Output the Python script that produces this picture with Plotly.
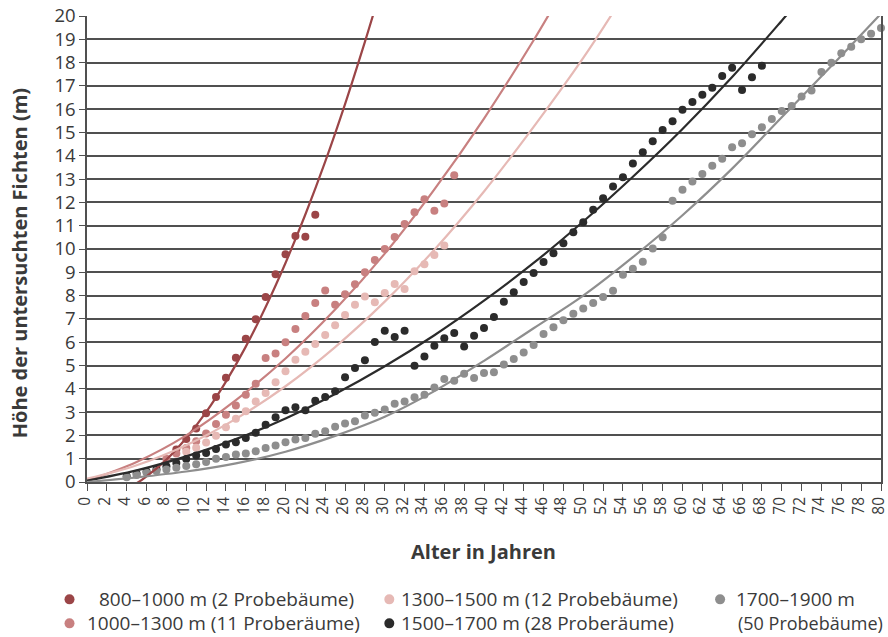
import plotly.graph_objects as go

# ---------------- data ----------------
names = ["800–1000 m (2 Probebäume)", "1000–1300 m (11 Proberäume)",
         "1300–1500 m (12 Probebäume)", "1500–1700 m (28 Proberäume)",
         "1700–1900 m (50 Probebäume)"]
colors = ["#9b4547", "#c88080", "#e6b9b5", "#2b2b2b", "#8e8e8e"]

# measured points (age in years, height in m)
age_800 = list(range(9, 24))
h_800 = [1.4, 1.85, 2.3, 2.95, 3.65, 4.47, 5.33, 6.15, 6.98, 7.94, 8.92, 9.78, 10.56, 10.53, 11.47]

age_1000 = list(range(8, 38))
h_1000 = [1.0, 1.22, 1.46, 1.75, 2.08, 2.49, 2.89, 3.28, 3.75, 4.22, 5.32, 5.52, 6.0, 6.57, 7.12,
          7.68, 8.22, 7.61, 8.06, 8.49, 9.0, 9.53, 10.0, 10.52, 11.07, 11.58, 12.14, 11.64, 11.95, 13.17]

age_1300 = list(range(10, 37))
h_1300 = [1.3, 1.47, 1.7, 1.99, 2.35, 2.71, 3.04, 3.46, 3.82, 4.28, 4.75, 5.25, 5.59, 5.92, 6.31,
          6.73, 7.17, 7.61, 7.96, 7.71, 8.11, 8.5, 8.28, 9.04, 9.35, 9.74, 10.15]

age_1500 = list(range(4, 69))
h_1500 = [0.25, 0.35, 0.45, 0.55, 0.68, 0.82, 0.99, 1.14, 1.25, 1.42, 1.61, 1.71, 1.89, 2.11, 2.46,
          2.78, 3.08, 3.21, 3.08, 3.49, 3.65, 3.9, 4.5, 4.89, 5.23, 6.01, 6.49, 6.22, 6.49, 4.99,
          5.39, 5.85, 6.17, 6.39, 5.82, 6.28, 6.61, 7.08, 7.74, 8.14, 8.58, 8.97, 9.44, 9.82, 10.25,
          10.72, 11.15, 11.68, 12.18, 12.68, 13.08, 13.67, 14.15, 14.62, 15.11, 15.48, 15.98, 16.31,
          16.62, 16.92, 17.42, 17.78, 16.82, 17.37, 17.87]

age_1700 = list(range(4, 81))
h_1700 = [0.2, 0.3, 0.4, 0.47, 0.54, 0.61, 0.69, 0.76, 0.86, 1.0, 1.07, 1.18, 1.22, 1.32, 1.46,
          1.57, 1.71, 1.82, 1.89, 2.07, 2.18, 2.37, 2.51, 2.61, 2.85, 2.97, 3.11, 3.36, 3.46, 3.64,
          3.75, 4.06, 4.42, 4.35, 4.65, 4.46, 4.68, 4.71, 5.04, 5.28, 5.56, 5.88, 6.35, 6.64, 6.94,
          7.22, 7.45, 7.68, 7.94, 8.21, 8.89, 9.15, 9.45, 10.02, 10.5, 12.07, 12.54, 12.9, 13.22,
          13.57, 13.87, 14.37, 14.54, 14.92, 15.22, 15.58, 15.92, 16.14, 16.54, 16.8, 17.6, 17.99,
          18.4, 18.68, 19.0, 19.24, 19.49]

# fitted curves
fit_age_800 = [0, 2, 4, 5, 6, 8, 10, 12, 14, 16, 18, 20, 22, 24, 26, 28, 29]
fit_h_800 = [-0.1, -0.25, -0.2, -0.05, 0.24, 0.96, 1.89, 3.0, 4.31, 5.81, 7.51, 9.4, 11.48, 13.75, 16.22, 18.89, 20.29]

fit_age_1000 = [0, 5, 10, 15, 20, 25, 30, 35, 40, 45, 47]
fit_h_1000 = [0.05, 0.86, 2.0, 3.51, 5.3, 7.4, 9.8, 12.56, 15.6, 18.96, 20.4]

fit_age_1300 = [0, 5, 10, 15, 20, 25, 30, 35, 40, 45, 50, 53]
fit_h_1300 = [0.14, 0.72, 1.58, 2.71, 4.11, 5.79, 7.74, 9.97, 12.47, 15.24, 18.2, 20.15]

fit_age_1500 = [0, 5, 10, 15, 20, 25, 30, 35, 40, 45, 50, 55, 60, 65, 70, 71]
fit_h_1500 = [0.06, 0.5, 1.1, 1.84, 2.73, 3.78, 4.97, 6.3, 7.78, 9.4, 11.18, 13.1, 15.15, 17.38, 19.8, 20.3]

fit_age_1700 = [0, 5, 10, 15, 20, 25, 30, 35, 40, 45, 50, 55, 60, 65, 70, 75, 80]
fit_h_1700 = [0.0, 0.2, 0.45, 0.8, 1.3, 1.98, 2.8, 3.9, 5.2, 6.6, 8.0, 9.65, 11.45, 13.45, 15.65, 17.85, 20.1]

x_ticks = list(range(0, 81, 2))
y_ticks = list(range(0, 21))

legend_items = [
    ("800–1000 m (2 Probebäume)", 0),
    ("1000–1300 m (11 Proberäume)", 1),
    ("1300–1500 m (12 Probebäume)", 2),
    ("1500–1700 m (28 Proberäume)", 3),
    ("1700–1900 m", 4),
]

# ---------------- figure ----------------
FONT = "Open Sans, Lato, sans-serif"
TXT = "#3a3a3a"
GRID = "#505050"

fig = go.Figure()

points = [(age_800, h_800), (age_1000, h_1000), (age_1300, h_1300), (age_1500, h_1500), (age_1700, h_1700)]
fits = [(fit_age_800, fit_h_800), (fit_age_1000, fit_h_1000), (fit_age_1300, fit_h_1300),
        (fit_age_1500, fit_h_1500), (fit_age_1700, fit_h_1700)]

for i, (ax, ay) in enumerate(points):
    fig.add_trace(go.Scatter(x=ax, y=ay, mode="markers", name=names[i], showlegend=False,
                             marker=dict(size=8, color=colors[i]), cliponaxis=False))
for i, (fx, fy) in enumerate(fits):
    fig.add_trace(go.Scatter(x=fx, y=fy, mode="lines", showlegend=False, hoverinfo="skip",
                             line=dict(color=colors[i], width=2.2, shape="spline", smoothing=1.0)))

L, R, T, B = 86.5, 881.0, 16.0, 482.5
def px(x):
    return (x - L) / (R - L)
def py(y):
    return (B - y) / (B - T)

annotations = []
shapes = []
leg_pos = [
    (69, 600, 97),
    (69, 624, 84),
    (389, 600, 399),
    (389, 624, 399),
    (720, 600, 734),
]
LEGSIZE = 19
for (label, ci), (dx, dy, tx) in zip(legend_items, leg_pos):
    shapes.append(dict(type="circle", xref="paper", yref="paper", xsizemode="pixel", ysizemode="pixel",
                       xanchor=px(dx), yanchor=py(dy), x0=-5, x1=5, y0=-5, y1=5,
                       fillcolor=colors[ci], line=dict(width=0)))
    annotations.append(dict(text=label, xref="paper", yref="paper", x=px(tx), y=py(dy),
                            xanchor="left", yanchor="middle", showarrow=False,
                            font=dict(family=FONT, size=LEGSIZE, color=TXT)))
annotations.append(dict(text="(50 Probebäume)", xref="paper", yref="paper", x=px(736), y=py(624),
                        xanchor="left", yanchor="middle", showarrow=False,
                        font=dict(family=FONT, size=18, color=TXT)))

annotations.append(dict(text="<b>Alter in Jahren</b>", xref="paper", yref="paper",
                        x=px(483), y=py(552), xanchor="center", yanchor="middle", showarrow=False,
                        font=dict(family=FONT, size=20, color=TXT)))
annotations.append(dict(text="<b>Höhe der untersuchten Fichten (m)</b>", xref="paper", yref="paper",
                        x=px(19), y=py(264), xanchor="center", yanchor="middle", showarrow=False,
                        textangle=-90, font=dict(family=FONT, size=20, color=TXT)))

fig.update_layout(
    width=888, height=637,
    margin=dict(l=L, r=888 - R, t=T, b=637 - B, autoexpand=False),
    paper_bgcolor="white", plot_bgcolor="white",
    font=dict(family=FONT, color=TXT),
    showlegend=False,
    annotations=annotations,
    shapes=shapes,
    xaxis=dict(range=[0, 80], tickvals=x_ticks, ticktext=[str(v) for v in x_ticks],
               tickangle=-90, ticks="outside", ticklen=7, tickwidth=1.3, tickcolor=GRID,
               showgrid=False, zeroline=False, showline=True, linecolor=GRID, linewidth=1.5,
               automargin=False, ticklabeloverflow="allow", ticklabelshift=-2,
               tickfont=dict(family=FONT, size=15.5, color=TXT)),
    yaxis=dict(range=[0, 20], tickvals=y_ticks, ticks="outside", ticklen=6, tickwidth=1.3,
               tickcolor=GRID, showgrid=True, gridcolor=GRID, gridwidth=1.5, zeroline=False,
               showline=True, mirror=True, linecolor=GRID, linewidth=1.5,
               automargin=False, ticklabeloverflow="allow",
               tickfont=dict(family=FONT, size=18.5, color=TXT)),
)

fig.write_html("out.html", config={"displayModeBar": False},
               post_script="document.body.style.margin='0px';document.body.style.padding='0px';")
